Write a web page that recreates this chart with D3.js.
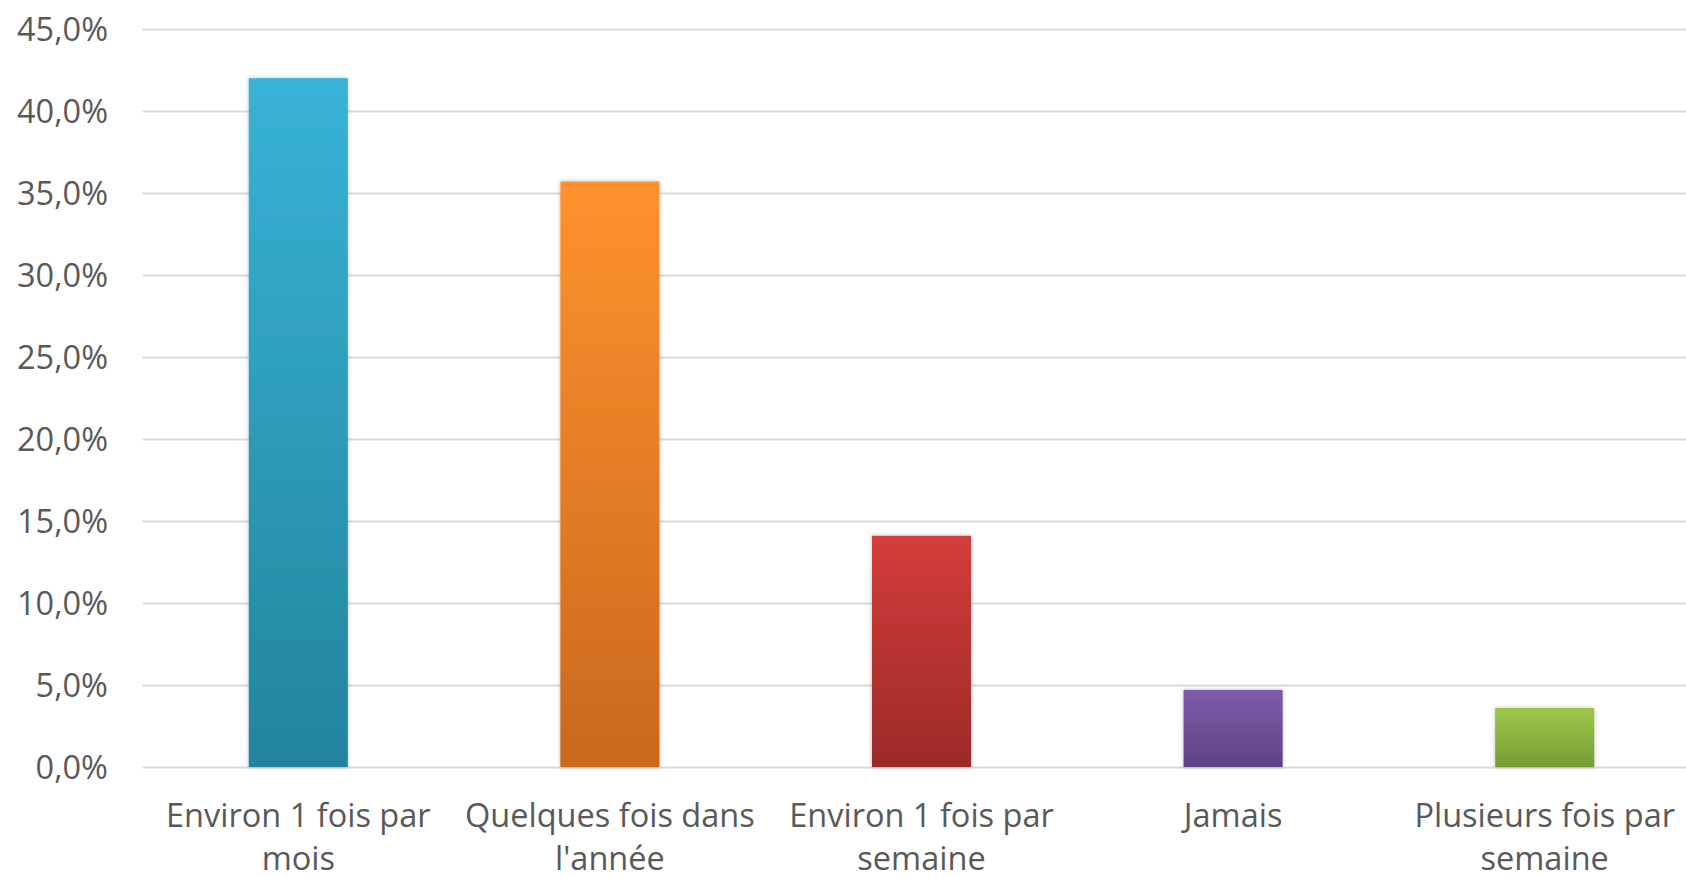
<!DOCTYPE html>
<html>
<head>
<meta charset="utf-8">
<script src="https://cdn.jsdelivr.net/npm/d3@7"></script>
<style>
  html, body { margin: 0; padding: 0; background: #fff; }
  svg { display: block; }
  text { font-family: "Open Sans", sans-serif; fill: #595959; }
</style>
</head>
<body>
<svg id="chart" width="1686" height="878"></svg>
<script>
const categories = [
  ["Environ 1 fois par", "mois"],
  ["Quelques fois dans", "l'année"],
  ["Environ 1 fois par", "semaine"],
  ["Jamais"],
  ["Plusieurs fois par", "semaine"]
];
const values = [42.0, 35.7, 14.1, 4.7, 3.6];
const topColors = ["#38B3D7", "#FF922E", "#D43D3B", "#7F5CAB", "#9CC849"];
const bottomColors = ["#23849C", "#CA681E", "#9B2A28", "#5E4284", "#779C35"];
const yTicks = [0, 5, 10, 15, 20, 25, 30, 35, 40, 45];

const svg = d3.select("#chart");
const x0 = 142.5, x1 = 1700.5, yTop = 29, yBottom = 767;

const x = d3.scaleBand().domain(d3.range(values.length)).range([x0, x1]).padding(0);
const y = d3.scaleLinear().domain([0, 45]).range([yBottom, yTop]);
const barW = x.bandwidth() * 0.318;

const defs = svg.append("defs");
values.forEach((v, i) => {
  const g = defs.append("linearGradient").attr("id", "g" + i)
    .attr("x1", 0).attr("y1", 0).attr("x2", 0).attr("y2", 1);
  g.append("stop").attr("offset", "0%").attr("stop-color", topColors[i]);
  g.append("stop").attr("offset", "100%").attr("stop-color", bottomColors[i]);
});
const f = defs.append("filter").attr("id", "shadow").attr("x", "-20%").attr("y", "-20%").attr("width", "140%").attr("height", "140%");
f.append("feDropShadow").attr("dx", 0).attr("dy", 0).attr("stdDeviation", 2).attr("flood-color", "#000").attr("flood-opacity", 0.25);

// gridlines
svg.append("g").selectAll("line").data(yTicks).join("line")
  .attr("x1", x0).attr("x2", x1)
  .attr("y1", d => Math.round(y(d)) + 0.5).attr("y2", d => Math.round(y(d)) + 0.5)
  .attr("stroke", "#D9D9D9").attr("stroke-width", 2);

// y labels
const yAxis = d3.axisLeft(y).tickValues(yTicks).tickSize(0).tickPadding(0)
  .tickFormat(d => d3.format(".1f")(d).replace(".", ",") + "%");
const ga = svg.append("g").attr("transform", "translate(108,0)").call(yAxis);
ga.select(".domain").remove();
ga.selectAll("text").attr("font-size", 32.5).attr("fill", "#595959")
  .style("font-family", "'Open Sans', sans-serif").attr("dy", "0.36em");

// bars
svg.append("g").selectAll("rect").data(values).join("rect")
  .attr("x", (d, i) => x(i) + (x.bandwidth() - barW) / 2)
  .attr("width", barW)
  .attr("y", d => y(d))
  .attr("height", d => y(0) - y(d))
  .attr("fill", (d, i) => `url(#g${i})`)
  .attr("filter", "url(#shadow)");

// x labels
const xl = svg.append("g").selectAll("text").data(categories).join("text")
  .attr("x", (d, i) => x(i) + x.bandwidth() / 2)
  .attr("y", 827)
  .attr("text-anchor", "middle")
  .attr("font-size", 32.5);
xl.selectAll("tspan").data(d => d).join("tspan")
  .attr("x", function() { return d3.select(this.parentNode).attr("x"); })
  .attr("dy", (d, j) => j === 0 ? 0 : 43)
  .text(d => d);
</script>
</body>
</html>
